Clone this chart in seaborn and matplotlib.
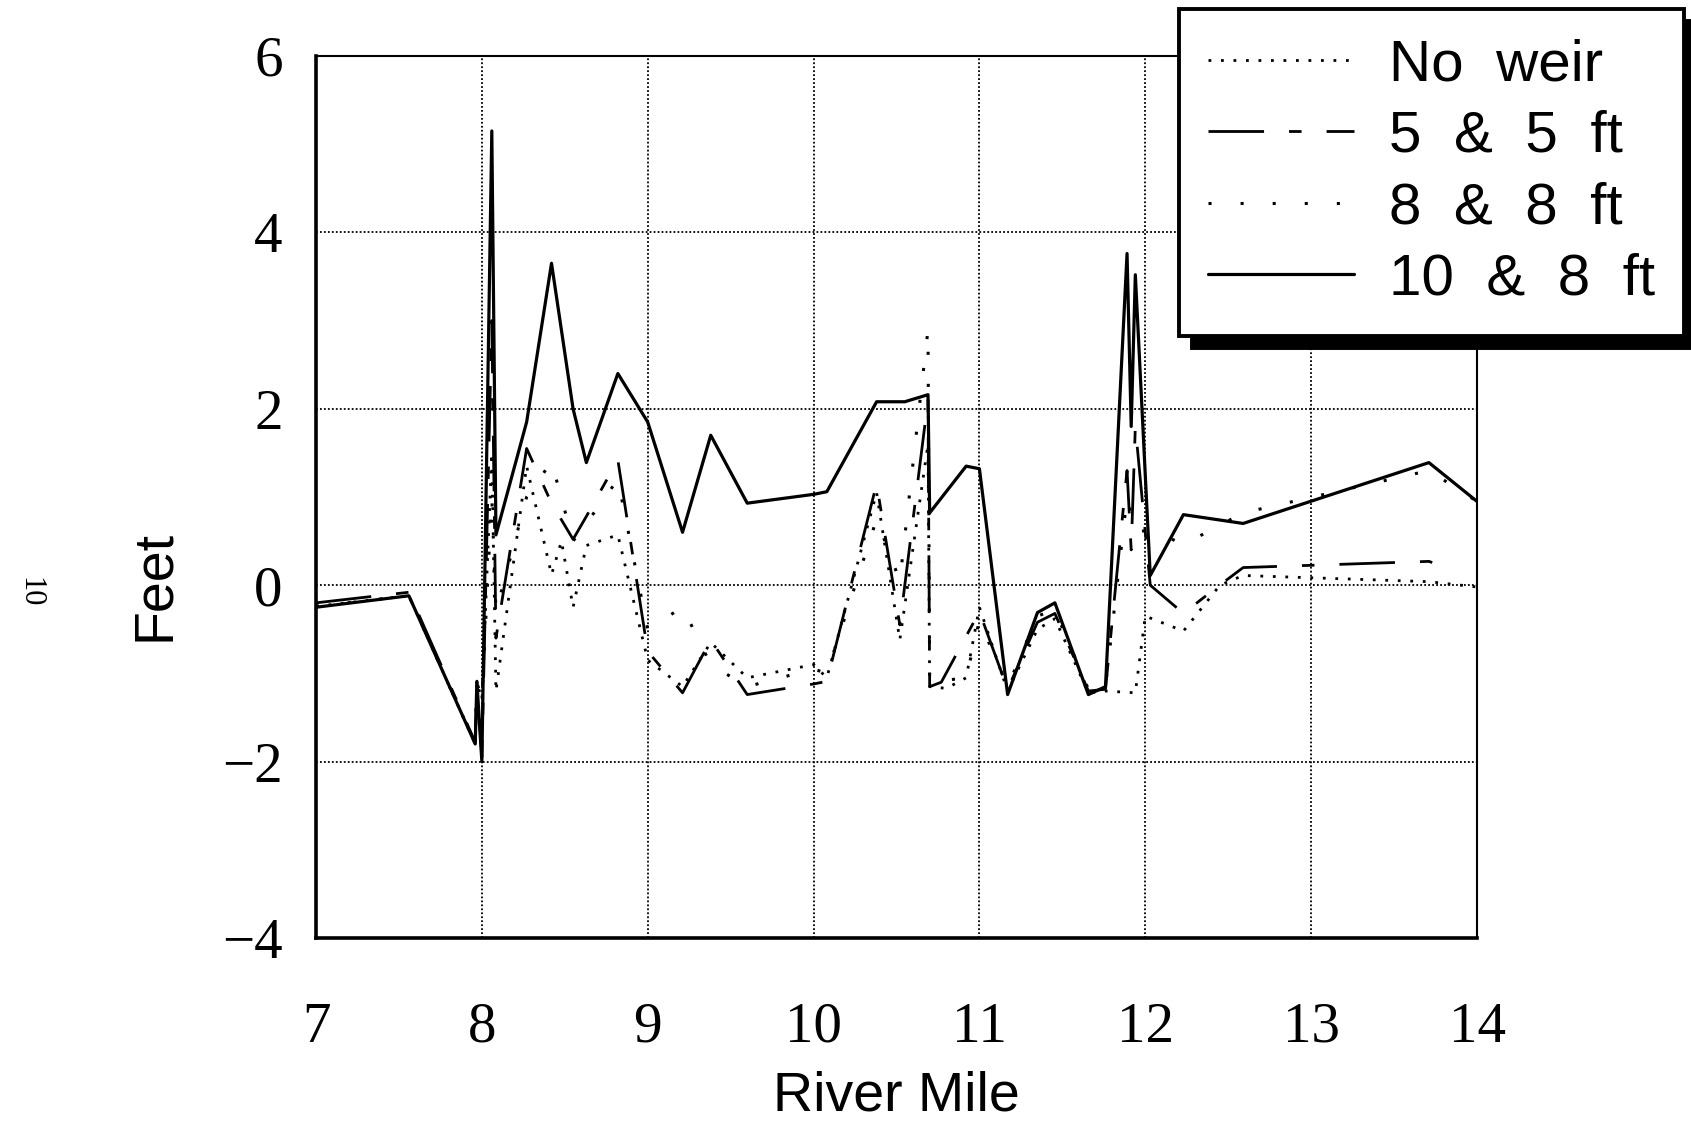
import matplotlib
matplotlib.use("Agg")
import matplotlib.pyplot as plt
from matplotlib.ticker import MultipleLocator
import numpy as np
import pandas as pd
import seaborn as sns

# ---------------- data ----------------
series_names = ["No  weir", "5  &  5  ft", "8  &  8  ft", "10  &  8  ft"]

nw_x = [7.0, 7.56, 7.96, 7.97, 8.0, 8.06, 8.085, 8.27, 8.42, 8.48, 8.55, 8.63, 8.82, 9.0,
        9.21, 9.38, 9.6, 10.0, 10.08, 10.38, 10.52, 10.69, 10.70, 10.8, 10.92, 11.0,
        11.17, 11.35, 11.455, 11.657, 11.76, 11.94, 12.0, 12.23, 12.45, 12.59, 13.71, 14.0]
nw_y = [-0.24, -0.12, -1.8, -1.1, -1.3, 1.5, -1.2, 1.35, 0.12, 0.5, -0.25, 0.45, 0.57, -0.85,
        -1.15, -0.65, -1.05, -0.9, -1.05, 1.05, -0.62, 1.6, -1.15, -1.17, -1.05, -0.25,
        -1.2, -0.5, -0.38, -1.22, -1.2, -1.22, -0.35, -0.52, 0.0, 0.11, 0.04, -0.02]

f5_x = [7.0, 7.56, 7.96, 7.97, 8.0, 8.06, 8.085, 8.27, 8.42, 8.55, 8.63, 8.82, 9.0,
        9.21, 9.38, 9.6, 10.0, 10.08, 10.38, 10.52, 10.69, 10.70, 10.77, 11.0,
        11.17, 11.35, 11.455, 11.657, 11.76, 11.89, 11.915, 11.94, 12.03, 12.23, 12.42,
        12.59, 13.71, 13.85]
f5_y = [-0.2, -0.08, -1.78, -1.1, -1.95, 3.0, -0.6, 1.55, 0.93, 0.52, 0.78, 1.42, -0.75,
        -1.22, -0.62, -1.24, -1.12, -1.09, 1.15, -0.45, 2.1, -1.15, -1.1, -0.3,
        -1.18, -0.42, -0.32, -1.2, -1.18, 1.3, 0.4, 1.8, 0.0, -0.32, -0.04,
        0.2, 0.27, 0.18]

e8_x = [7.0, 7.56, 7.96, 7.97, 8.0, 8.06, 8.085, 8.27, 8.42, 8.55, 8.63, 8.82, 9.0,
        9.21, 9.38, 9.6, 10.0, 10.08, 10.38, 10.52, 10.69, 10.70, 10.92, 11.0,
        11.17, 11.35, 11.455, 11.657, 11.76, 11.89, 11.94, 12.04, 12.23, 12.59, 13.71, 14.0]
e8_y = [-0.24, -0.12, -1.8, -1.1, -1.3, 1.0, -0.3, 1.0, 1.40, 0.5, 0.7, 1.2, -0.5,
        -0.25, -0.9, -1.15, -0.95, -1.0, 0.75, 0.05, 2.9, -1.1, -1.05, -0.4,
        -1.15, -0.35, -0.28, -1.18, -1.15, 1.0, 0.6, 0.63, 0.46, 0.82, 1.30, 0.95]

t8_x = [7.0, 7.56, 7.96, 7.97, 8.0, 8.06, 8.085, 8.27, 8.42, 8.55, 8.63, 8.82, 9.0,
        9.21, 9.38, 9.6, 10.0, 10.08, 10.38, 10.55, 10.69, 10.70, 10.92, 11.0,
        11.17, 11.35, 11.455, 11.657, 11.76, 11.89, 11.915, 11.94, 12.03, 12.23, 12.59,
        13.71, 14.0]
t8_y = [-0.25, -0.12, -1.8, -1.09, -2.0, 5.15, 0.57, 1.85, 3.65, 2.0, 1.39, 2.4, 1.85,
        0.6, 1.7, 0.93, 1.03, 1.06, 2.08, 2.08, 2.16, 0.82, 1.35, 1.32,
        -1.24, -0.31, -0.2, -1.24, -1.15, 3.76, 1.8, 3.52, 0.11, 0.8, 0.7,
        1.39, 0.95]

x_ticks = [7, 8, 9, 10, 11, 12, 13, 14]
y_ticks = [-4, -2, 0, 2, 4, 6]

# ---------------- figure ----------------
sns.set_theme(style="white")
plt.rcParams["font.family"] = ["Liberation Sans", "DejaVu Sans"]

W, H = 1691, 1126
fig = plt.figure(figsize=(W / 100, H / 100), dpi=100)
ax = fig.add_axes([316 / W, 1 - 938 / H, (1477 - 316) / W, (938 - 56) / H])
ax.set_facecolor("white")

styles = [
    dict(linestyle=(0, (1, 3.5)), linewidth=2.0),
    dict(linestyle=(0, (20, 9, 4.5, 9)), linewidth=2.0),
    dict(linestyle=(0, (1, 9.5)), linewidth=2.2),
    dict(linestyle="-", linewidth=2.3),
]
all_x = [nw_x, f5_x, e8_x, t8_x]
all_y = [nw_y, f5_y, e8_y, t8_y]

for name, xs, ys, st in zip(series_names, all_x, all_y, styles):
    df = pd.DataFrame({"mile": xs, "feet": ys})
    sns.lineplot(data=df, x="mile", y="feet", ax=ax, color="black", sort=False,
                 estimator=None, legend=False, label=name, zorder=3, **st)

ax.set_xlim(7, 14)
ax.set_ylim(-4, 6)
ax.set_xticks(x_ticks)
ax.set_yticks(y_ticks)
ax.xaxis.set_minor_locator(MultipleLocator(0.2))
ax.yaxis.set_minor_locator(MultipleLocator(1))

ax.grid(True, which="major", color="black", linestyle=(0, (1, 1.2)), linewidth=1.3)

serif = ["Liberation Serif", "DejaVu Serif"]
ax.tick_params(axis="both", which="both", direction="in", color="black",
               top=False, right=False)
ax.tick_params(axis="y", which="major", length=20, width=2.2, pad=24)
ax.tick_params(axis="y", which="minor", length=9, width=1.8)
ax.tick_params(axis="x", which="major", length=18, width=1.8, pad=46)
ax.tick_params(axis="x", which="minor", length=11, width=1.6)
for lab in ax.get_xticklabels() + ax.get_yticklabels():
    lab.set_fontfamily(serif)
    lab.set_fontsize(41)
    lab.set_color("black")

for side in ["left", "bottom"]:
    ax.spines[side].set_linewidth(2.6)
    ax.spines[side].set_color("black")
for side in ["top", "right"]:
    ax.spines[side].set_linewidth(1.5)
    ax.spines[side].set_color("black")

ax.set_xlabel("River Mile", fontsize=40, color="black")
ax.set_ylabel("Feet", fontsize=40, color="black")
ax.xaxis.set_label_coords(0.5, -0.150)
ax.yaxis.set_label_coords(-0.116, 0.40)

handles = ax.get_lines()[:4]
leg = ax.legend(handles=handles, labels=series_names, loc="upper left",
                bbox_to_anchor=(1179 / W, 1 - 9 / H), bbox_transform=fig.transFigure,
                borderaxespad=0, fontsize=42, frameon=True, fancybox=False,
                framealpha=1, edgecolor="black", facecolor="white",
                handlelength=2.5, handletextpad=0.6, labelspacing=0.3,
                borderpad=0.5,
                shadow={"ox": 9, "oy": -9, "facecolor": "black",
                        "edgecolor": "black", "alpha": 1})
leg.get_frame().set_linewidth(2.8)
leg.set_zorder(10)
for t in leg.get_texts():
    t.set_color("black")

fig.text(30 / W, 1 - 592 / H, "10", rotation=270, fontsize=22,
         family=serif, ha="center", va="center", color="black")

fig.savefig("out.png", dpi=100, facecolor="white")
